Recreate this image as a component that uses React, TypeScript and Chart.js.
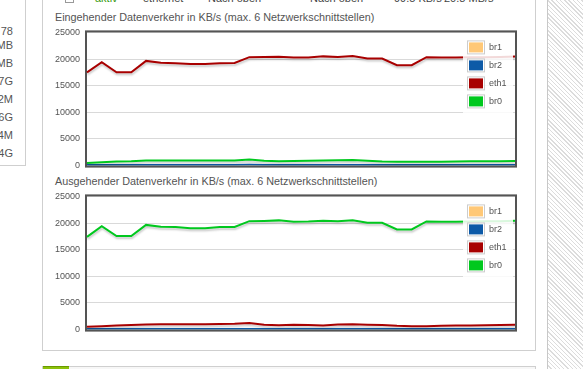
import React, { useEffect, useRef } from 'react';
import { Chart, registerables } from 'chart.js';

Chart.register(...registerables);

const timeLabels = [
  '14:00', '14:01', '14:02', '14:03', '14:04', '14:05', '14:06', '14:07', '14:08', '14:09',
  '14:10', '14:11', '14:12', '14:13', '14:14', '14:15', '14:16', '14:17', '14:18', '14:19',
  '14:20', '14:21', '14:22', '14:23', '14:24', '14:25', '14:26', '14:27', '14:28', '14:29',
];

const seriesNames = ['br1', 'br2', 'eth1', 'br0'];
const seriesColors = ['#ffc877', '#0d5aa7', '#a80000', '#00c81e'];

const yMin = 0;
const yMax = 25000;
const yStep = 5000;

// Eingehend (in)
const inBr1 = [10, 10, 12, 10, 10, 11, 10, 10, 12, 10, 10, 11, 10, 10, 10, 12, 10, 10, 11, 10, 10, 10, 12, 10, 10, 11, 10, 10, 10, 12];
const inBr2 = [110, 120, 115, 120, 130, 125, 120, 125, 120, 130, 125, 140, 120, 115, 120, 125, 120, 130, 125, 120, 115, 110, 110, 115, 120, 120, 125, 120, 125, 130];
const inEth1 = [17500, 19400, 17500, 17500, 19650, 19300, 19200, 19050, 19050, 19200, 19250, 20350, 20400, 20450, 20300, 20300, 20500, 20400, 20550, 20100, 20100, 18850, 18850, 20350, 20300, 20300, 20350, 20350, 20400, 20500];
const inBr0 = [500, 650, 750, 800, 950, 950, 950, 950, 950, 950, 950, 1150, 900, 800, 850, 900, 950, 1000, 1050, 900, 750, 700, 700, 700, 700, 750, 800, 800, 800, 850];

// Ausgehend (out)
const outBr1 = [10, 11, 10, 10, 12, 10, 10, 11, 10, 10, 10, 12, 10, 10, 11, 10, 10, 10, 12, 10, 10, 11, 10, 10, 10, 12, 10, 10, 11, 10];
const outBr2 = [100, 110, 110, 115, 120, 120, 125, 120, 120, 125, 120, 130, 120, 115, 115, 120, 115, 120, 120, 115, 110, 105, 105, 110, 110, 115, 115, 120, 120, 125];
const outEth1 = [550, 650, 750, 850, 950, 1000, 1000, 1000, 1000, 1050, 1100, 1250, 900, 800, 900, 850, 750, 950, 1000, 900, 850, 700, 650, 650, 700, 750, 750, 800, 850, 900];
const outBr0 = [17400, 19400, 17550, 17550, 19650, 19300, 19250, 19000, 19000, 19250, 19250, 20350, 20400, 20500, 20250, 20300, 20450, 20350, 20500, 20050, 20050, 18800, 18800, 20300, 20250, 20250, 20300, 20350, 20350, 20450];

const inValues = [inBr1, inBr2, inEth1, inBr0];
const outValues = [outBr1, outBr2, outEth1, outBr0];

const FONT = '"Liberation Sans", Arial, Helvetica, sans-serif';
const TEXT = '#545454';

const framePlugin = {
  id: 'frame',
  beforeDatasetsDraw(chart: any) {
    const { ctx, chartArea } = chart;
    const { left, top, right, bottom } = chartArea;
    ctx.save();
    ctx.strokeStyle = '#545454';
    ctx.lineWidth = 2;
    ctx.strokeRect(left - 1, top - 1, right - left + 2, bottom - top + 2);
    ctx.restore();
  },
};

const shadowPlugin = {
  id: 'lineShadow',
  beforeDatasetDraw(chart: any) {
    const ctx = chart.ctx;
    ctx.save();
    ctx.shadowColor = 'rgba(0,0,0,0.22)';
    ctx.shadowBlur = 2;
    ctx.shadowOffsetX = 0.5;
    ctx.shadowOffsetY = 2;
  },
  afterDatasetDraw(chart: any) {
    chart.ctx.restore();
  },
};

const innerLegendPlugin = {
  id: 'innerLegend',
  afterDatasetsDraw(chart: any) {
    const { ctx, chartArea } = chart;
    const { top, right } = chartArea;
    const n = chart.data.datasets.length;
    ctx.save();
    ctx.fillStyle = 'rgba(255,255,255,0.85)';
    ctx.fillRect(right - 52, top + 5, 50, n * 18 + 4);
    chart.data.datasets.forEach((ds: any, i: number) => {
      const x = right - 48;
      const y = top + 8 + i * 18;
      ctx.strokeStyle = '#cccccc';
      ctx.lineWidth = 1;
      ctx.strokeRect(x + 0.5, y + 0.5, 17, 13);
      ctx.fillStyle = ds.borderColor;
      ctx.fillRect(x + 2, y + 2, 14, 10);
      ctx.fillStyle = TEXT;
      ctx.font = `9px ${FONT}`;
      ctx.textBaseline = 'middle';
      ctx.textAlign = 'left';
      ctx.fillText(ds.label, x + 22, y + 7.5);
    });
    ctx.restore();
  },
};

function TrafficChart({ values, top }: { values: number[][]; top: number }) {
  const ref = useRef<HTMLCanvasElement>(null);
  useEffect(() => {
    const chart = new Chart(ref.current as HTMLCanvasElement, {
      type: 'line',
      data: {
        labels: timeLabels,
        datasets: seriesNames.map((name, i) => ({
          label: name,
          data: values[i],
          borderColor: seriesColors[i],
          backgroundColor: seriesColors[i],
          borderWidth: 2,
          pointRadius: 0,
          pointHoverRadius: 0,
          tension: 0,
          fill: false,
          order: seriesNames.length - i,
        })),
      },
      options: {
        responsive: false,
        animation: false,
        events: [],
        layout: { padding: { left: 0, right: 15, top: 12, bottom: 12 } },
        plugins: {
          legend: { display: false },
          tooltip: { enabled: false },
          title: { display: false },
        },
        scales: {
          x: { type: 'category', display: false, offset: false },
          y: {
            min: yMin,
            max: yMax,
            afterFit: (s: any) => {
              s.width = 43;
            },
            border: { display: false },
            grid: { color: 'rgba(84,84,84,0.22)', lineWidth: 1, drawTicks: false },
            ticks: {
              stepSize: yStep,
              padding: 7,
              color: TEXT,
              font: { family: FONT, size: 9 },
              callback: (v: any) => String(v),
            },
          },
        },
      } as any,
      plugins: [framePlugin, shadowPlugin, innerLegendPlugin],
    });
    return () => chart.destroy();
  }, []);
  return (
    <canvas
      ref={ref}
      width={486}
      height={158}
      style={{ position: 'absolute', left: 44, top, width: 486, height: 158 }}
    />
  );
}

const sideLabels = [
  { t: '78', y: 35 },
  { t: 'MB', y: 48.5 },
  { t: 'MB', y: 67 },
  { t: '7G', y: 85 },
  { t: '2M', y: 103 },
  { t: '6G', y: 121 },
  { t: '4M', y: 139 },
  { t: '4G', y: 157 },
];

const topCut = [
  { t: 'aktiv', x: 95, c: '#3a9a10' },
  { t: 'ethernet', x: 143, c: '#444' },
  { t: 'Nach oben', x: 208, c: '#444' },
  { t: 'Nach oben', x: 310, c: '#444' },
  { t: '99.5 KB/s', x: 394, c: '#444' },
  { t: '20.8 MB/s', x: 444, c: '#444' },
];

export default function App() {
  return (
    <div
      style={{
        position: 'fixed',
        left: 0,
        top: 0,
        width: 583,
        height: 369,
        overflow: 'hidden',
        background: '#fff',
        fontFamily: FONT,
      }}
    >
      {/* left panel */}
      <div
        style={{
          position: 'absolute',
          left: -10,
          top: -2,
          width: 36,
          height: 168,
          borderRight: '1px solid #cfcfcf',
          borderBottom: '1px solid #cfcfcf',
          boxSizing: 'border-box',
        }}
      />
      {sideLabels.map((s, i) => (
        <div
          key={i}
          style={{
            position: 'absolute',
            right: 583 - 13,
            top: s.y - 9,
            fontSize: 11,
            lineHeight: '11px',
            color: '#555',
            whiteSpace: 'nowrap',
          }}
        >
          {s.t}
        </div>
      ))}
      {/* main box */}
      <div
        style={{
          position: 'absolute',
          left: 42,
          top: -2,
          width: 494,
          height: 353,
          border: '1px solid #cfcfcf',
          borderTop: 'none',
          boxSizing: 'border-box',
        }}
      />
      {/* cut-off row at top */}
      <div
        style={{
          position: 'absolute',
          left: 65,
          top: -7,
          width: 9,
          height: 10,
          border: '1px solid #999',
          boxSizing: 'border-box',
          background: '#fff',
        }}
      />
      {topCut.map((s, i) => (
        <div
          key={i}
          style={{
            position: 'absolute',
            left: s.x,
            top: -7.5,
            fontSize: 11,
            lineHeight: '11px',
            color: s.c,
            whiteSpace: 'nowrap',
          }}
        >
          {s.t}
        </div>
      ))}
      {/* titles */}
      <div
        style={{
          position: 'absolute',
          left: 55,
          top: 12,
          fontSize: 10.8,
          lineHeight: '11px',
          color: TEXT,
          whiteSpace: 'nowrap',
        }}
      >
        Eingehender Datenverkehr in KB/s (max. 6 Netzwerkschnittstellen)
      </div>
      <div
        style={{
          position: 'absolute',
          left: 55,
          top: 176,
          fontSize: 10.8,
          lineHeight: '11px',
          color: TEXT,
          whiteSpace: 'nowrap',
        }}
      >
        Ausgehender Datenverkehr in KB/s (max. 6 Netzwerkschnittstellen)
      </div>
      <TrafficChart values={inValues} top={20} />
      <TrafficChart values={outValues} top={184} />
      {/* lower box */}
      <div
        style={{
          position: 'absolute',
          left: 42,
          top: 366,
          width: 494,
          height: 20,
          border: '1px solid #cfcfcf',
          boxSizing: 'border-box',
          background: '#f7f7f7',
        }}
      />
      <div
        style={{
          position: 'absolute',
          left: 43,
          top: 366,
          width: 26,
          height: 5,
          background: '#8cc20a',
          borderTop: '1px solid #6a9a00',
          boxSizing: 'border-box',
        }}
      />
      {/* hatched right area */}
      <div
        style={{
          position: 'absolute',
          left: 547,
          top: 0,
          width: 36,
          height: 369,
          borderLeft: '1px solid #c8c8c8',
          boxSizing: 'border-box',
          background:
            'repeating-linear-gradient(45deg, #ffffff 0px, #ffffff 2px, #dcdcdc 2px, #dcdcdc 3px)',
        }}
      />
    </div>
  );
}
